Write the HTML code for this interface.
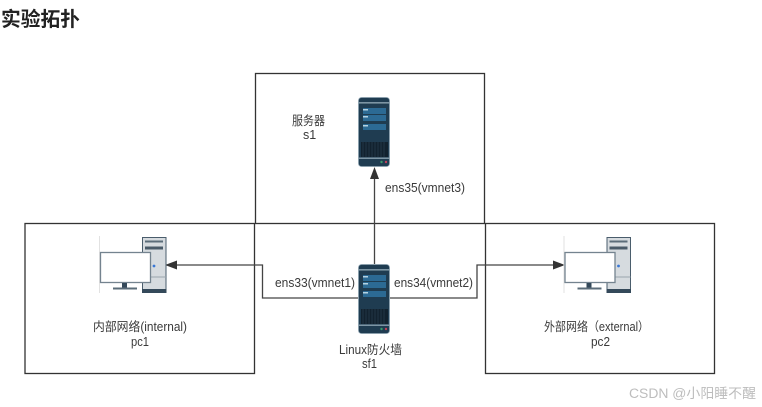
<!DOCTYPE html>
<html><head><meta charset="utf-8"><style>
html,body{margin:0;padding:0;background:#fff}
body{width:762px;height:407px;overflow:hidden}
svg{display:block}
text{font-family:"Liberation Sans","Noto Sans CJK SC",sans-serif;fill:#3a3a3a;font-size:12.5px}
</style></head><body>
<svg width="762" height="407" viewBox="0 0 762 407" xmlns="http://www.w3.org/2000/svg">
<defs>
<g id="srv">
<rect x="0.500" y="0.500" width="31" height="69" rx="3" fill="#1f3c51" stroke="#8aa0ae" stroke-width="0.800"/>
<rect x="0.500" y="5" width="31" height="1.600" fill="#7d95a4"/>
<rect x="5" y="11" width="23" height="6" fill="#2c6a94"/>
<rect x="5" y="18" width="23" height="6" fill="#2c6a94"/>
<rect x="5" y="27" width="23" height="6" fill="#2c6a94"/>
<rect x="5" y="12" width="5" height="1.500" fill="#b5d2e2"/>
<rect x="5" y="19" width="5" height="1.500" fill="#b5d2e2"/>
<rect x="5" y="28" width="5" height="1.500" fill="#b5d2e2"/>
<rect x="3" y="45" width="27" height="15" fill="#12222f"/>
<path d="M5 45v15M8 45v15M11 45v15M14 45v15M17 45v15M20 45v15M23 45v15M26 45v15" stroke="#2a4152" stroke-width="0.700"/>
<rect x="0.500" y="60.500" width="31" height="1.500" fill="#7d95a4"/>
<circle cx="23.500" cy="65" r="1.200" fill="#3b9a6b"/>
<circle cx="28" cy="65" r="1.200" fill="#c0405a"/>
</g>
<g id="pc">
<line x1="-0.500" y1="-1" x2="-0.500" y2="56" stroke="#e2e2e2"/>
<rect x="42.500" y="0.500" width="23.500" height="55" fill="#d6dbdf" stroke="#4a5d6c"/>
<rect x="42" y="52" width="24.500" height="4" fill="#34495a"/>
<rect x="45" y="3.500" width="18" height="2" fill="#5b6c79"/>
<rect x="45" y="9.500" width="18" height="3" fill="#4a5b69"/>
<line x1="42" y1="40" x2="66" y2="40" stroke="#9aa5ad"/>
<circle cx="54" cy="29" r="1.400" fill="#3a78d6"/>
<rect x="0.500" y="15.500" width="50" height="30" fill="#fff" stroke="#74838f" stroke-width="1.300"/>
<rect x="22" y="46" width="5" height="5" fill="#34495a"/>
<rect x="13" y="50.500" width="24" height="2" fill="#5b6c79"/>
</g>
</defs>
<text x="1" y="26" textLength="79" lengthAdjust="spacingAndGlyphs" style="font-size:20px;font-weight:bold;fill:#222">实验拓扑</text>
<g fill="none" stroke="#333" stroke-width="1.300">
<rect x="255.500" y="73.500" width="229" height="150"/>
<rect x="25" y="223.500" width="229.500" height="150"/>
<rect x="485.500" y="223.500" width="229" height="150"/>
</g>
<g fill="none" stroke="#444" stroke-width="1.300">
<line x1="374.500" y1="264" x2="374.500" y2="178"/>
<polyline points="358,298 262.500,298 262.500,265 175,265"/>
<polyline points="390,298 477,298 477,265 555,265"/>
</g>
<g fill="#333">
<polygon points="374.500,167 370,179 379,179"/>
<polygon points="165,265 177,260.500 177,269.500"/>
<polygon points="565,265 553,260.500 553,269.500"/>
</g>
<use href="#srv" x="358" y="97"/>
<use href="#srv" x="358" y="264"/>
<use href="#pc" x="100" y="237"/>
<use href="#pc" x="564.500" y="237"/>
<text x="292" y="125" textLength="33" lengthAdjust="spacingAndGlyphs">服务器</text>
<text x="303" y="139">s1</text>
<text x="385" y="192" textLength="80" lengthAdjust="spacingAndGlyphs">ens35(vmnet3)</text>
<text x="275" y="287" textLength="80" lengthAdjust="spacingAndGlyphs">ens33(vmnet1)</text>
<text x="394" y="287" textLength="79" lengthAdjust="spacingAndGlyphs">ens34(vmnet2)</text>
<text x="93" y="331" textLength="94" lengthAdjust="spacingAndGlyphs">内部网络(internal)</text>
<text x="131" y="346" textLength="18" lengthAdjust="spacingAndGlyphs">pc1</text>
<text x="544" y="331" textLength="105" lengthAdjust="spacingAndGlyphs">外部网络（external）</text>
<text x="591" y="346" textLength="19" lengthAdjust="spacingAndGlyphs">pc2</text>
<text x="339" y="354" textLength="63" lengthAdjust="spacingAndGlyphs">Linux防火墙</text>
<text x="362" y="368" textLength="15" lengthAdjust="spacingAndGlyphs">sf1</text>
<text x="629" y="398" textLength="127" lengthAdjust="spacingAndGlyphs" style="font-size:13.500px;fill:#bdbdbd">CSDN @小阳睡不醒</text>
</svg>
</body></html>
